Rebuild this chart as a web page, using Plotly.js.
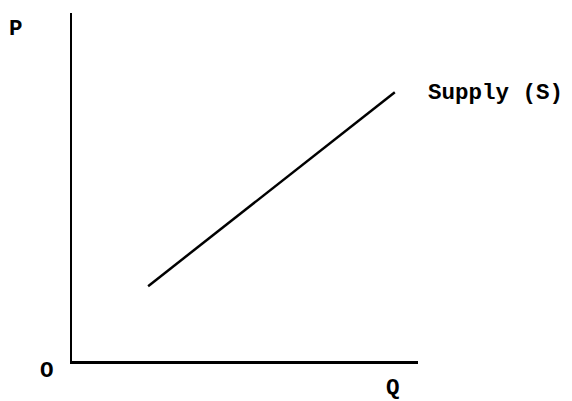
<!DOCTYPE html>
<html>
<head>
<meta charset="utf-8">
<script src="https://cdn.plot.ly/plotly-3.0.1.min.js"></script>
<style>html,body{margin:0;padding:0;background:#fff;}#chart{width:572px;height:401px;}</style>
</head>
<body>
<div id="chart"></div>
<script>
// Supply curve endpoints (quantity, price) in arbitrary units
var supplyQ = [2.2, 9.33];
var supplyP = [2.15, 7.72];
var curveLabel = "Supply (S)";
var yAxisLabel = "P";
var xAxisLabel = "Q";
var originLabel = "O";

var font = {family: "Liberation Mono, Courier New, monospace", size: 22.5, color: "#000", weight: "bold"};

var traces = [{
  x: supplyQ, y: supplyP, mode: "lines", type: "scatter",
  line: {color: "#000", width: 2.5}, hoverinfo: "skip", showlegend: false
}];

var layout = {
  width: 572, height: 401,
  margin: {l: 72, r: 154, t: 13, b: 40, pad: 0},
  paper_bgcolor: "#fff", plot_bgcolor: "#fff",
  showlegend: false,
  xaxis: {range: [0, 10], showline: true, linecolor: "#000", linewidth: 3,
          showgrid: false, zeroline: false, showticklabels: false, ticks: ""},
  yaxis: {range: [0, 10], showline: true, linecolor: "#000", linewidth: 2,
          showgrid: false, zeroline: false, showticklabels: false, ticks: ""},
  annotations: [
    {text: yAxisLabel, xref: "paper", yref: "paper", x: -0.162, y: 0.955, xanchor: "center", yanchor: "middle", showarrow: false, font: font},
    {text: originLabel, xref: "paper", yref: "paper", x: -0.072, y: -0.03, xanchor: "center", yanchor: "middle", showarrow: false, font: font},
    {text: xAxisLabel, xref: "paper", yref: "paper", x: 0.928, y: -0.078, xanchor: "center", yanchor: "middle", showarrow: false, font: font},
    {text: curveLabel, xref: "paper", yref: "paper", x: 1.022, y: 0.77, xanchor: "left", yanchor: "middle", showarrow: false, font: font}
  ]
};

Plotly.newPlot("chart", traces, layout, {staticPlot: true, displayModeBar: false});
</script>
</body>
</html>
